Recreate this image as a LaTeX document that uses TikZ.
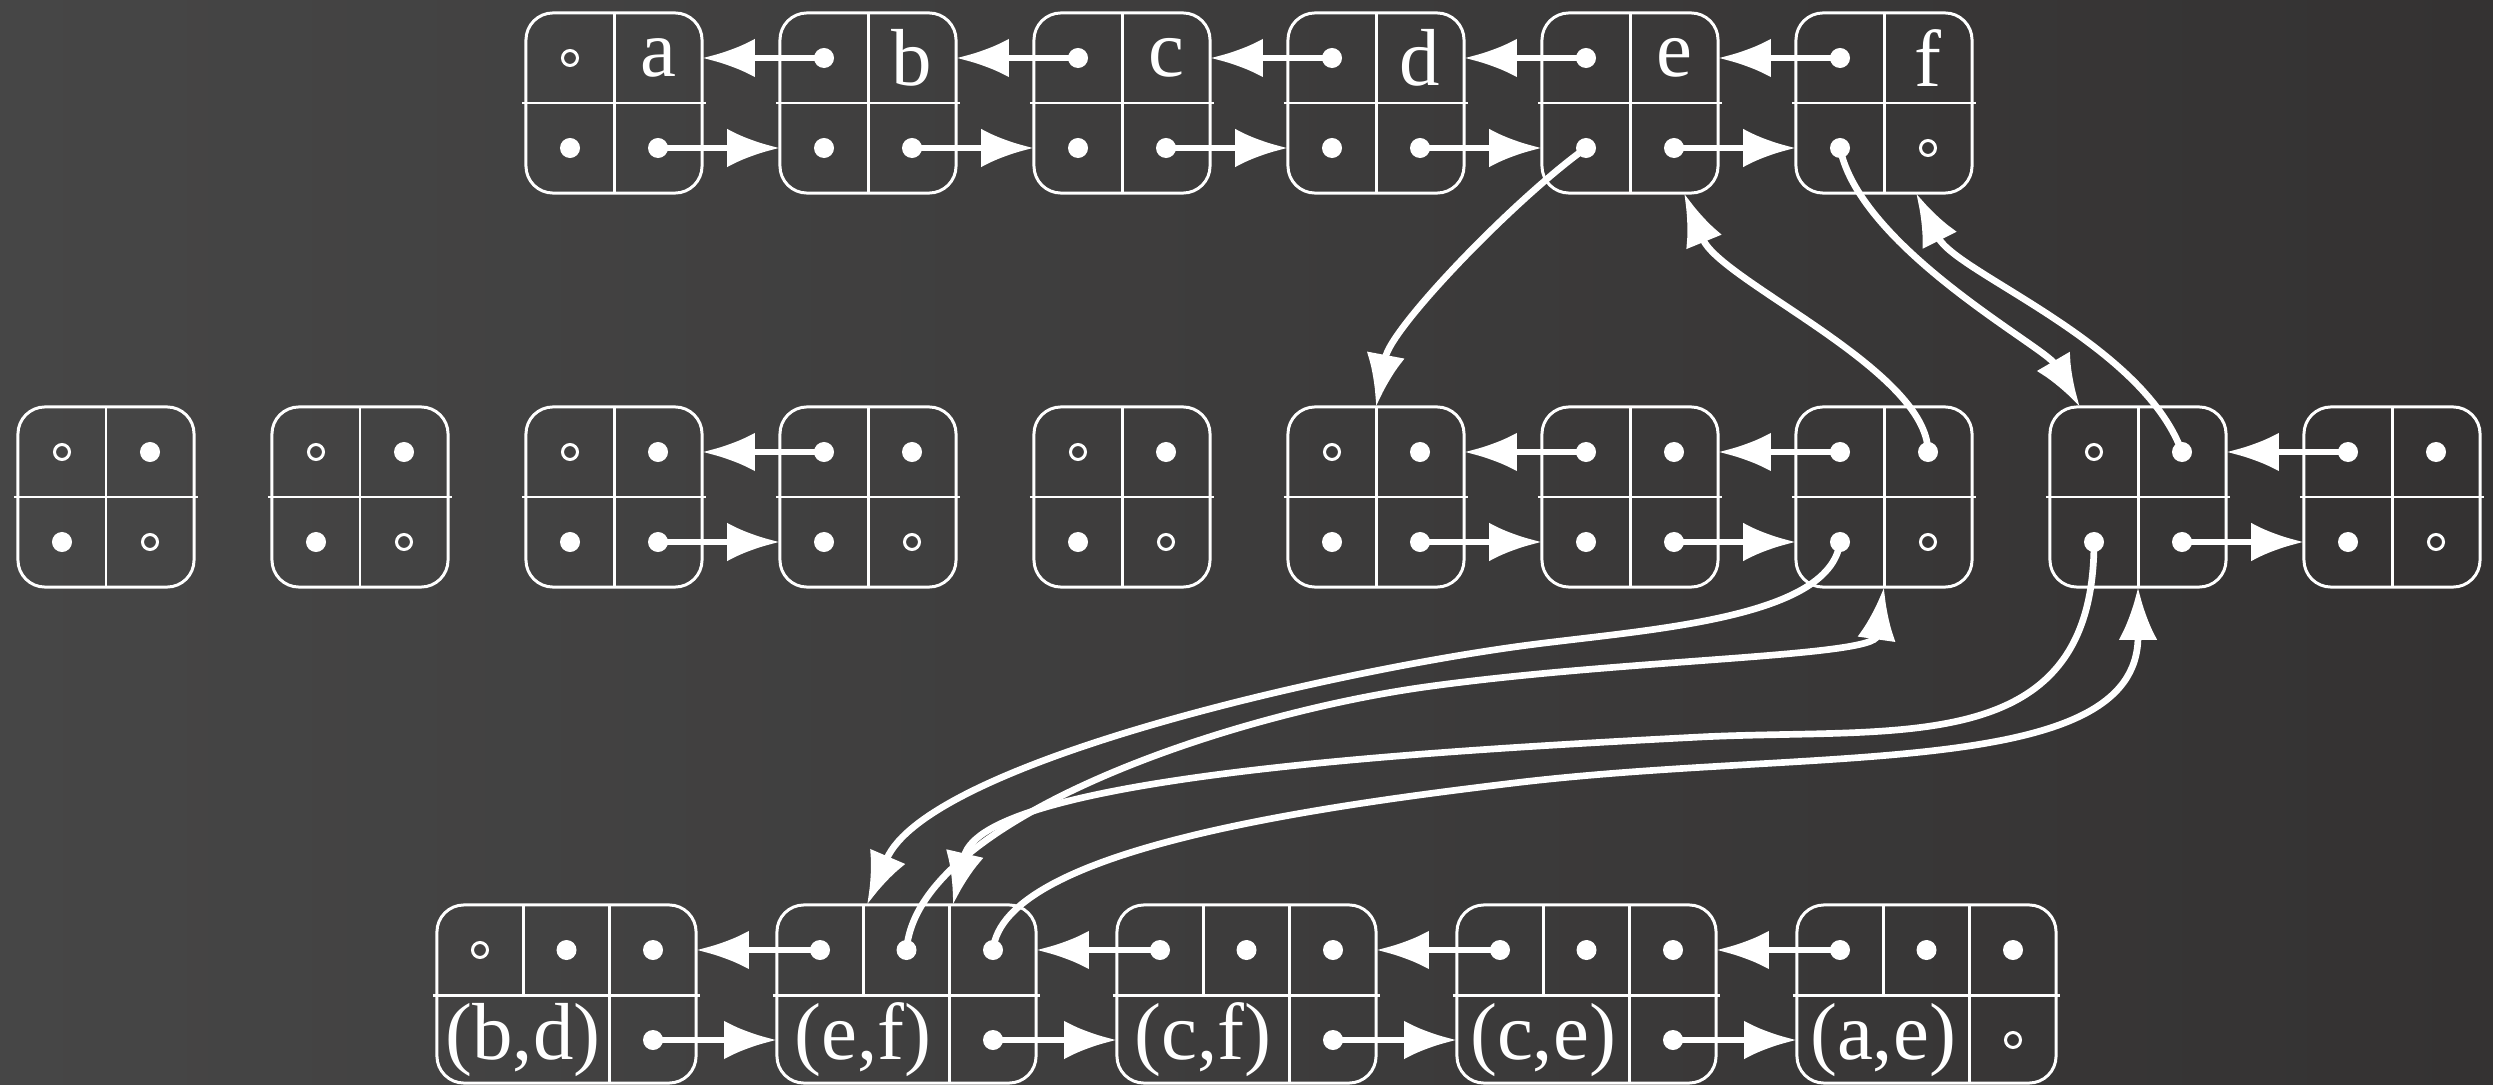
\documentclass[tikz,border=0pt]{standalone}
\usepackage{fontspec}
\setmainfont{Liberation Serif}
\usetikzlibrary{arrows.meta,calc}
\definecolor{boardL}{RGB}{70,70,70}
\definecolor{boardR}{RGB}{52,50,50}
\begin{document}
\begin{tikzpicture}[x=0.01cm,y=-0.01cm,
  pairbox/.style={draw=white, line width=0.85pt, rounded corners=0.27cm,
    minimum width=1.76cm, minimum height=1.8cm, inner sep=0pt, outer sep=0pt},
  triobox/.style={pairbox, minimum width=2.59cm, minimum height=1.78cm},
  fdot/.style={circle, fill=white, minimum size=0.2cm, inner sep=0pt, outer sep=0pt},
  hdot/.style={circle, draw=white, line width=0.85pt, minimum size=0.15cm, inner sep=0pt},
  lbl/.style={text=white, font=\fontsize{23}{27}\selectfont, inner sep=0pt},
  divider/.style={white, line width=0.85pt},
  link/.style={white, line width=1.9pt, -{Latex[length=15pt,width=11pt]}},
]
% chalkboard
\shade[left color=boardL, right color=boardR] (0,0) rectangle (2493,1085);
\useasboundingbox (0,0) rectangle (2493,1085);

% ---- element records a..f
\foreach \n/\i/\tl/\br in {a/2/hdot/fdot,b/3/fdot/fdot,c/4/fdot/fdot,
                           d/5/fdot/fdot,e/6/fdot/fdot,f/7/fdot/hdot}{
  \node[pairbox] (t\n) at ({106+254*\i},103) {};
  \draw[divider] (t\n.north) -- (t\n.south);
  \draw[divider] ($(t\n.west)+(-4,0)$) -- ($(t\n.east)+(4,0)$);
  \node[\tl] (t\n-tl) at ({62+254*\i},58) {};
  \node[lbl] (t\n-tr) at ({150+254*\i},58) {\n};
  \node[fdot] (t\n-bl) at ({62+254*\i},148) {};
  \node[\br] (t\n-br) at ({150+254*\i},148) {};
}

% ---- set records
\foreach \i/\tl/\br in {0/hdot/hdot,1/hdot/hdot,2/hdot/fdot,3/fdot/hdot,
                        4/hdot/hdot,5/hdot/fdot,6/fdot/fdot,7/fdot/hdot,
                        8/hdot/fdot,9/fdot/hdot}{
  \node[pairbox] (m\i) at ({106+254*\i},497) {};
  \draw[divider] (m\i.north) -- (m\i.south);
  \draw[divider] ($(m\i.west)+(-4,0)$) -- ($(m\i.east)+(4,0)$);
  \node[\tl] (m\i-tl) at ({62+254*\i},452) {};
  \node[fdot] (m\i-tr) at ({150+254*\i},452) {};
  \node[fdot] (m\i-bl) at ({62+254*\i},542) {};
  \node[\br] (m\i-br) at ({150+254*\i},542) {};
}

% ---- edge records
\foreach \k/\tl/\br/\txt in {0/hdot/fdot/{(b,d)},1/fdot/fdot/{(e,f)},
                             2/fdot/fdot/{(c,f)},3/fdot/fdot/{(c,e)},
                             4/fdot/hdot/{(a,e)}}{
  \node[triobox] (e\k) at ({566.5+340*\k},994) {};
  \draw[divider] ($(e\k.west)+(-4,1)$) -- ($(e\k.east)+(4,1)$);
  \draw[divider] ($(e\k.north west)+(86.3,0)$) -- ++(0,90);
  \draw[divider] ($(e\k.north west)+(172.7,0)$) -- ($(e\k.south west)+(172.7,0)$);
  \node[\tl] (e\k-tl) at ({480+340*\k},950) {};
  \node[fdot] (e\k-tm) at ({566.5+340*\k},950) {};
  \node[fdot] (e\k-tr) at ({653+340*\k},950) {};
  \node[lbl] (e\k-lb) at ({523+340*\k},1040) {\txt};
  \node[\br] (e\k-br) at ({653+340*\k},1040) {};
}

% ---- straight links
\foreach \p/\q in {a/b,b/c,c/d,d/e,e/f}{
  \draw[link] (t\q-tl.center) -- (t\p.east |- t\q-tl.center);
  \draw[link] (t\p-br.center) -- (t\q.west |- t\p-br.center);
}
\foreach \p/\q in {2/3,5/6,6/7,8/9}{
  \draw[link] (m\q-tl.center) -- (m\p.east |- m\q-tl.center);
  \draw[link] (m\p-br.center) -- (m\q.west |- m\p-br.center);
}
\foreach \p/\q in {0/1,1/2,2/3,3/4}{
  \draw[link] (e\q-tl.center) -- (e\p.east |- e\q-tl.center);
  \draw[link] (e\p-br.center) -- (e\q.west |- e\p-br.center);
}

% ---- links between the element records and the sets
\draw[link] (te-bl.center) .. controls +(-70,50) and +(15,-80) .. (m5.north);
\draw[link] (m7-tr.center) .. controls +(0,-82) and +(36,88) .. ($(te.south)+(54,0)$);
\draw[link] (tf-bl.center) .. controls +(20,100) and +(-35,-60) .. ($(m8.north west)+(30,0)$);
\draw[link] (m8-tr.center) .. controls +(-40,-110) and +(40,80) .. ($(tf.south)+(32,0)$);

% ---- links between the sets and the edge (e,f)
\coordinate (bendE) at (1514,647);
\coordinate (bendF) at (1425,687);
\coordinate (bendG) at (1700,737);
\coordinate (bendH) at (1514,783);
\draw[link] (m7-bl.center) .. controls +(-10,80) and +(120,-17) .. (bendE)
  .. controls +(-200,28) and +(60,-140) .. ($(e1.north west)+(90,0)$);
\draw[link] (e1-tm.center) .. controls +(10,-130) and +(-200,28) .. (bendF)
  .. controls +(200,-28) and +(-10,70) .. (m7.south);
\draw[link] (m8-bl.center) .. controls +(0,218) and +(200,-10) .. (bendG)
  .. controls +(-250,13) and +(30,-130) .. ($(e1.north west)+(176,0)$);
\draw[link] (e1-tr.center) .. controls +(10,-100) and +(-200,24) .. (bendH)
  .. controls +(300,-36) and +(0,193) .. (m8.south);
\end{tikzpicture}
\end{document}
